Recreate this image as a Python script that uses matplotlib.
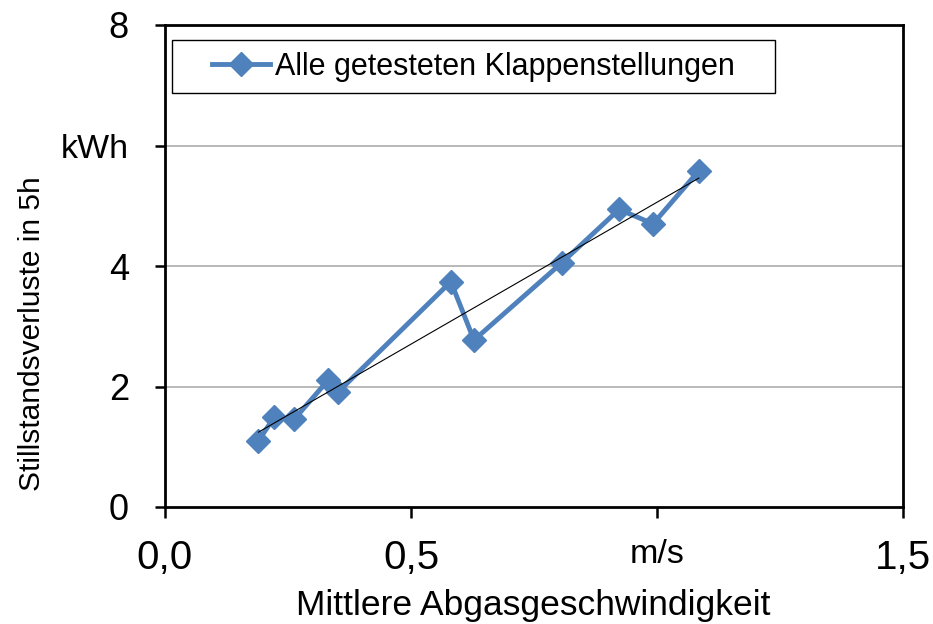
import numpy as np
import matplotlib
matplotlib.use("Agg")
import matplotlib.pyplot as plt
from matplotlib import font_manager
from matplotlib.patches import Rectangle

# ---- data ----
geschwindigkeit = [0.190, 0.222, 0.263, 0.332, 0.352, 0.581, 0.628, 0.806, 0.923, 0.992, 1.085]
verluste = [1.10, 1.49, 1.46, 2.11, 1.91, 3.74, 2.77, 4.05, 4.94, 4.70, 5.58]
series_label = "Alle getesteten Klappenstellungen"
x_ticks = [0.0, 0.5, 1.0, 1.5]
x_ticklabels = ["0,0", "0,5", "m/s", "1,5"]
y_ticks = [0, 2, 4, 6, 8]
y_ticklabels = ["0", "2", "4", "kWh", "8"]
x_label = "Mittlere Abgasgeschwindigkeit"
y_label = "Stillstandsverluste in 5h"

names = {f.name for f in font_manager.fontManager.ttflist}
font = "Liberation Sans" if "Liberation Sans" in names else "DejaVu Sans"
plt.rcParams["font.family"] = [font, "DejaVu Sans"]

blue = "#4F81BD"
W, H = 933, 624
L, R, T, B = 165, 903, 25, 507

fig = plt.figure(figsize=(W / 100, H / 100), dpi=100)
ax = fig.add_axes([L / W, 1 - B / H, (R - L) / W, (B - T) / H])

ax.set_xlim(0, 1.5)
ax.set_ylim(0, 8)

# gridlines
for yv in y_ticks[1:-1]:
    ax.axhline(yv, color="#A6A6A6", lw=1.1, zorder=1)

# series
ax.plot(geschwindigkeit, verluste, color=blue, lw=3.5, marker="D", ms=12,
        markeredgecolor=blue, label=series_label, zorder=3)

# linear trendline
coef = np.polyfit(geschwindigkeit, verluste, 1)
xt = np.array([min(geschwindigkeit), max(geschwindigkeit)])
ax.plot(xt, np.polyval(coef, xt), color="black", lw=0.8, zorder=4)

# axes styling
for s in ax.spines.values():
    s.set_linewidth(2.0)
    s.set_color("black")

ax.set_xticks(x_ticks)
ax.set_xticklabels(x_ticklabels)
ax.set_yticks(y_ticks)
ax.set_yticklabels(y_ticklabels)
ax.tick_params(axis="x", direction="out", length=8, width=1.8, pad=15, labelsize=29)
ax.tick_params(axis="y", direction="out", length=7, width=1.8, pad=19, labelsize=26)
for lbl in ax.get_xticklabels():
    if lbl.get_text() == "m/s":
        lbl.set_fontsize(24.5)
for lbl in ax.get_yticklabels():
    if lbl.get_text() == "kWh":
        lbl.set_fontsize(24.5)

fig.text(533 / W, 1 - 606 / H, x_label, ha="center", va="center", fontsize=25.5)
fig.text(32 / W, 1 - 334 / H, y_label, ha="center", va="center", rotation=90, fontsize=21.5)

# legend frame (drawn separately to get wide horizontal padding)
def ax_x(px):
    return (px - L) / (R - L)

def ax_y(py):
    return 1 - (py - T) / (B - T)

frame = Rectangle((ax_x(172), ax_y(93)), ax_x(775) - ax_x(172), ax_y(40) - ax_y(93),
                  transform=ax.transAxes, facecolor="white", edgecolor="black",
                  lw=1.0, zorder=5)
ax.add_patch(frame)
leg = ax.legend(loc="center left", bbox_to_anchor=(ax_x(212), (ax_y(40) + ax_y(93)) / 2),
                borderaxespad=0, borderpad=0, fontsize=22, frameon=False,
                handlelength=1.9, handletextpad=0.15)
leg.set_zorder(6)

fig.savefig("out.png", dpi=100)
